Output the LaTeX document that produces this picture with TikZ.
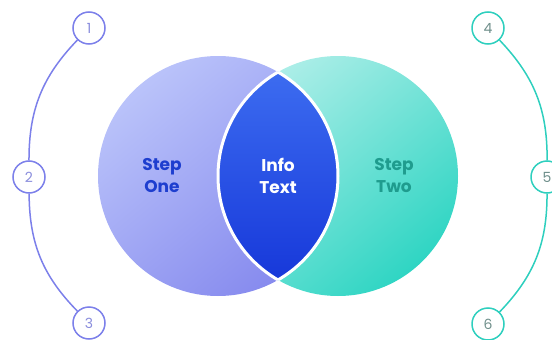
\documentclass[tikz,border=0pt]{standalone}
\usepackage{fontspec}
\setmainfont{Poppins}
\definecolor{lblue}{HTML}{7C80EA}
\definecolor{lnumtext}{HTML}{8A8DDD}
\definecolor{rteal}{HTML}{2ECFBE}
\definecolor{rnumtext}{HTML}{6F8F8B}
\definecolor{lcirA}{HTML}{BAC3FA}
\definecolor{lcirB}{HTML}{868AEE}
\definecolor{rcirA}{HTML}{ADEEE8}
\definecolor{rcirB}{HTML}{2FD5C3}
\definecolor{lensA}{HTML}{3F70F2}
\definecolor{lensB}{HTML}{1434D8}
\definecolor{onetext}{HTML}{1E3ECF}
\definecolor{twotext}{HTML}{1F9C8E}
\begin{document}
\begin{tikzpicture}[x=1pt,y=-1pt,
  num/.style={circle, draw, line width=1.5pt, minimum size=32pt, inner sep=0pt, fill=white, font=\fontsize{14}{14}\selectfont},
  lnum/.style={num, draw=lblue, text=lnumtext},
  rnum/.style={num, draw=rteal, text=rnumtext},
  llink/.style={draw=lblue, line width=1.5pt},
  rlink/.style={draw=rteal, line width=1.5pt},
  lbl/.style={font=\fontsize{17}{22}\selectfont\bfseries, align=center}
]
\useasboundingbox (0,0) rectangle (552,340);
\coordinate (L) at (218,176);
\coordinate (R) at (338,176);
% big circles
\shade[top color=lcirA, bottom color=lcirB, shading angle=40] (L) circle (120pt);
\shade[top color=rcirA, bottom color=rcirB, shading angle=40] (R) circle (120pt);
% lens
\begin{scope}
  \clip (L) circle (120pt);
  \shade[top color=lensA, bottom color=lensB] (R) circle (120pt);
\end{scope}
\begin{scope}
  \clip (L) circle (120pt);
  \draw[white, line width=3pt] (R) circle (120pt);
\end{scope}
\begin{scope}
  \clip (R) circle (120pt);
  \draw[white, line width=3pt] (L) circle (120pt);
\end{scope}
% labels
\node[lbl, text=onetext] (one) at (162,176) {Step\\One};
\node[lbl, text=white] (info) at (278,176) {Info\\Text};
\node[lbl, text=twotext] (two) at (394,176) {Step\\Two};
% number circles
\node[lnum] (n1) at (89,28) {1};
\node[lnum] (n2) at (29,177) {2};
\node[lnum] (n3) at (89,323) {3};
\node[rnum] (n4) at (488,28) {4};
\node[rnum] (n5) at (547,177) {5};
\node[rnum] (n6) at (488,324) {6};
% arcs
\draw[llink] (n1) to[bend right=22] (n2);
\draw[llink] (n2) to[bend right=22] (n3);
\draw[rlink] (n4) to[bend left=22] (n5);
\draw[rlink] (n5) to[bend left=22] (n6);
\end{tikzpicture}
\end{document}
